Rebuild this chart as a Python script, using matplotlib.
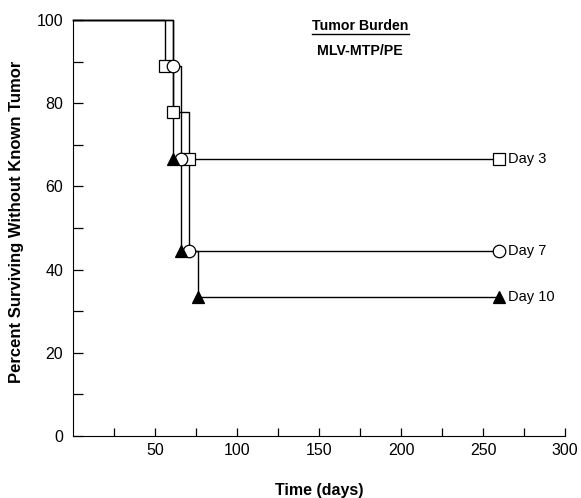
import matplotlib
matplotlib.use('Agg')
import matplotlib.pyplot as plt
from matplotlib.ticker import MultipleLocator, FixedLocator

plt.rcParams['font.family'] = ['Liberation Sans', 'DejaVu Sans']

# survival data (days, percent) for each tumor burden group
day3_t = [0, 56, 61, 71, 260]
day3_s = [100, 88.9, 77.8, 66.7, 66.7]
day7_t = [0, 61, 66, 71, 260]
day7_s = [100, 88.9, 66.7, 44.4, 44.4]
day10_t = [0, 61, 66, 76, 260]
day10_s = [100, 66.7, 44.4, 33.3, 33.3]

groups = [
    ('Day 3', day3_t, day3_s, 's', 'white'),
    ('Day 7', day7_t, day7_s, 'o', 'white'),
    ('Day 10', day10_t, day10_s, '^', 'black'),
]

fig = plt.figure(figsize=(5.81, 4.98), dpi=100)
ax = fig.add_axes([0.1256, 0.1245, 0.847, 0.8353])

for name, t, s, mk, fc in groups:
    ax.step(t, s, where='post', color='black', lw=1.0, clip_on=False, zorder=2)
    ax.plot(t[1:], s[1:], ls='none', marker=mk, ms=9, mfc=fc, mec='black',
            mew=0.9, clip_on=False, zorder=3)
    ax.text(t[-1] + 5, s[-1], name, va='center', ha='left', fontsize=10.5)

ax.set_xlim(0, 300)
ax.set_ylim(0, 100)
ax.spines['top'].set_visible(False)
ax.spines['right'].set_visible(False)

ax.yaxis.set_major_locator(MultipleLocator(20))
ax.yaxis.set_minor_locator(MultipleLocator(10))
ax.xaxis.set_major_locator(FixedLocator([50, 100, 150, 200, 250, 300]))
ax.xaxis.set_minor_locator(FixedLocator([25, 75, 125, 175, 225, 275]))
ax.tick_params(which='both', direction='in', labelsize=11.5, width=0.9)
ax.tick_params(axis='y', which='both', length=7, pad=7)
ax.tick_params(axis='x', which='both', length=6, pad=5)

ax.set_xlabel('Time (days)', fontsize=11.5, fontweight='bold', labelpad=18)
ax.set_ylabel('Percent Surviving Without Known Tumor', fontsize=12,
              fontweight='bold')
ax.yaxis.set_label_coords(-0.1, 0.515)

# header annotation
fig.text(0.62, 0.947, 'Tumor Burden', ha='center', va='center',
         fontsize=10.2, fontweight='bold')
fig.add_artist(plt.Line2D([0.537, 0.704], [0.931, 0.931], color='black', lw=1.0))
fig.text(0.62, 0.897, 'MLV-MTP/PE', ha='center', va='center',
         fontsize=10.2, fontweight='bold')

fig.savefig('out.png', dpi=100)
